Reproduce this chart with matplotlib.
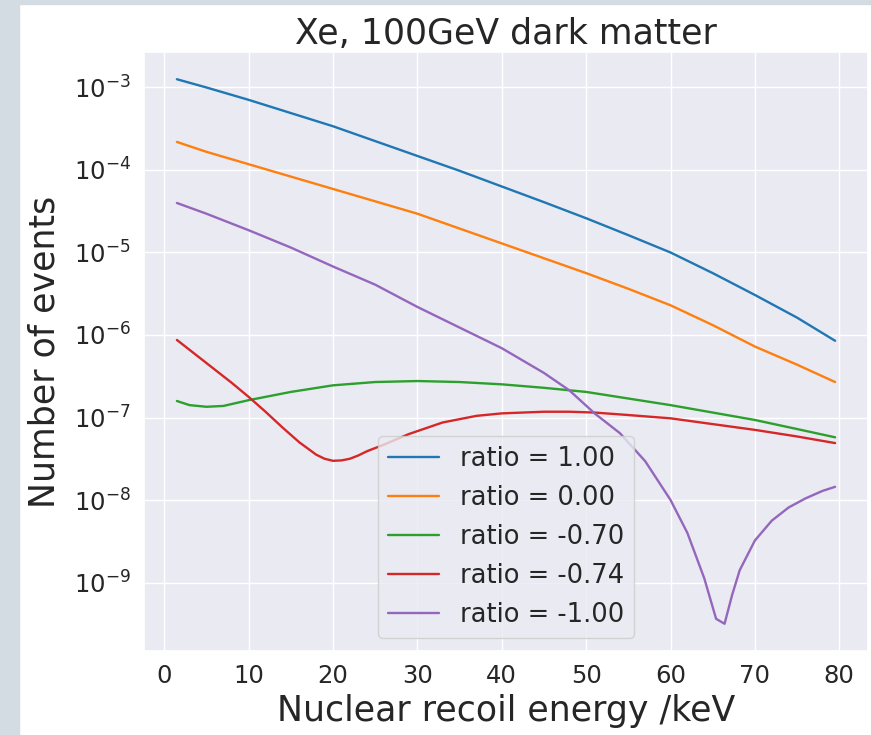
import numpy as np
import matplotlib
matplotlib.use("Agg")
import matplotlib.pyplot as plt
import seaborn as sns
from matplotlib.patches import Rectangle

# values (log10 of number of events)
energy = [1.5, 5, 10, 15, 20, 25, 30, 35, 40, 45, 50, 55, 60, 65, 70, 75, 79.5]
blue_log = [-2.90, -3.00, -3.15, -3.31, -3.47, -3.65, -3.83, -4.01, -4.20, -4.39,
            -4.585, -4.79, -5.00, -5.25, -5.515, -5.79, -6.07]
orange_log = [-3.66, -3.78, -3.93, -4.08, -4.23, -4.38, -4.53, -4.71, -4.89, -5.07,
              -5.25, -5.44, -5.64, -5.88, -6.14, -6.36, -6.57]

green_x = [1.5, 3, 5, 7, 10, 15, 20, 25, 30, 35, 40, 45, 50, 55, 60, 65, 70, 75, 79.5]
green_log = [-6.80, -6.85, -6.87, -6.86, -6.79, -6.69, -6.61, -6.57, -6.558, -6.57,
             -6.598, -6.64, -6.69, -6.77, -6.85, -6.94, -7.03, -7.14, -7.24]

red_x = [1.5, 5, 8, 10, 12, 14, 16, 18, 19, 20, 21, 22, 23, 24, 26, 29, 33, 37, 40, 45,
         48, 51, 55, 60, 65, 70, 75, 79.5]
red_log = [-6.06, -6.34, -6.58, -6.75, -6.93, -7.12, -7.30, -7.45, -7.50, -7.525, -7.52,
           -7.50, -7.46, -7.41, -7.33, -7.20, -7.06, -6.98, -6.95, -6.93, -6.93, -6.94,
           -6.97, -7.01, -7.08, -7.15, -7.23, -7.31]

purple_x = [1.5, 5, 10, 15, 20, 25, 30, 35, 40, 45, 48, 51, 54, 57, 60, 62, 64,
            65.4, 66.4, 67.3, 68.2, 70, 72, 74, 76, 78, 79.5]
purple_log = [-4.40, -4.53, -4.73, -4.94, -5.17, -5.39, -5.66, -5.91, -6.16, -6.46,
              -6.67, -6.95, -7.19, -7.53, -8.00, -8.40, -8.95, -9.44, -9.50, -9.15,
              -8.85, -8.49, -8.25, -8.09, -7.98, -7.89, -7.84]

labels = ['ratio = 1.00', 'ratio = 0.00', 'ratio = -0.70', 'ratio = -0.74', 'ratio = -1.00']

sns.set_theme(style='darkgrid', palette='tab10')

fig = plt.figure(figsize=(8.71, 7.35), dpi=100)
# screenshot border (light blue-gray strips)
fig.patches.append(Rectangle((0, 0), 19 / 871, 1, transform=fig.transFigure,
                             color='#d3dbe3', zorder=-1))
fig.patches.append(Rectangle((0, 1 - 4 / 735), 1, 4 / 735, transform=fig.transFigure,
                             color='#d3dbe3', zorder=-1))

ax = fig.add_axes([144 / 871, 1 - 651 / 735, 724 / 871, 599 / 735])

ax.plot(energy, 10 ** np.array(blue_log), label=labels[0], lw=1.7)
ax.plot(energy, 10 ** np.array(orange_log), label=labels[1], lw=1.7)
ax.plot(green_x, 10 ** np.array(green_log), label=labels[2], lw=1.7)
ax.plot(red_x, 10 ** np.array(red_log), label=labels[3], lw=1.7)
ax.plot(purple_x, 10 ** np.array(purple_log), label=labels[4], lw=1.7)

ax.set_yscale('log')
ax.set_xticks(range(0, 81, 10))
ax.tick_params(labelsize=17.5)
ax.set_xlabel('Nuclear recoil energy /keV', fontsize=25)
ax.set_ylabel('Number of events', fontsize=25, labelpad=9)
ax.set_title('Xe, 100GeV dark matter', fontsize=25)
ax.legend(loc='lower center', fontsize=18.5)

fig.savefig('out.png', dpi=100)
